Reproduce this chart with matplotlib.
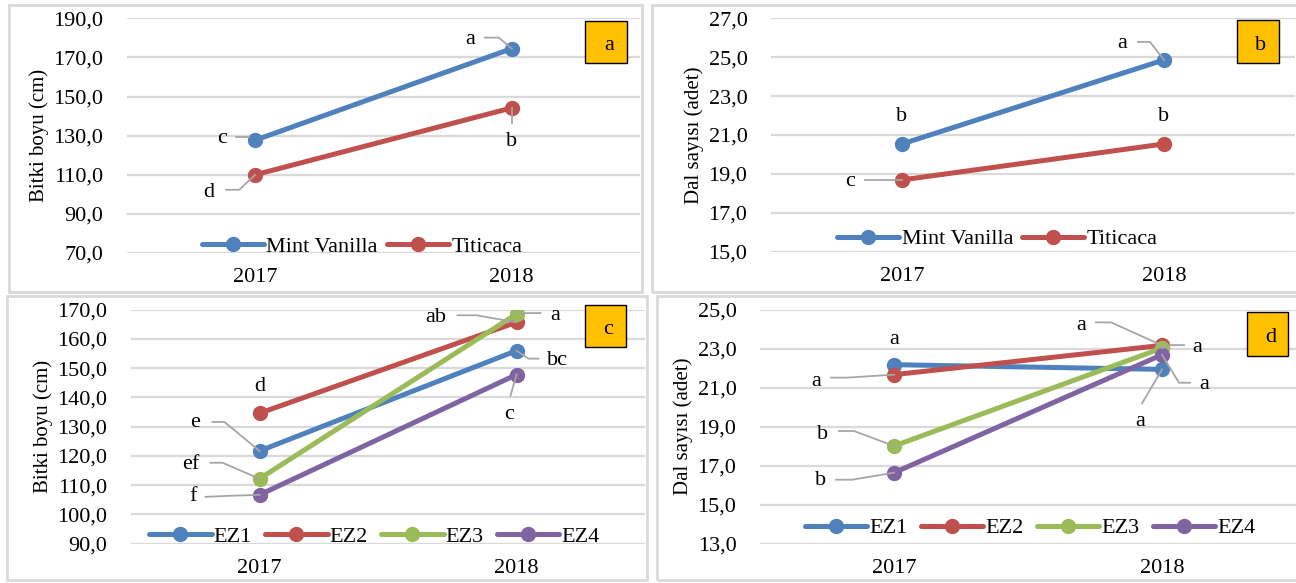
import matplotlib
matplotlib.use("Agg")
import numpy as np
import matplotlib.pyplot as plt
from matplotlib.patches import Rectangle
from matplotlib.lines import Line2D
from matplotlib.ticker import FuncFormatter, FixedLocator

plt.rcParams['font.family'] = ['Liberation Serif', 'DejaVu Serif']

# ---------------- data ----------------
years = ["2017", "2018"]

cultivars = ["Mint Vanilla", "Titicaca"]
height_cv = {"Mint Vanilla": [127.7, 174.5], "Titicaca": [110.0, 144.2]}
branch_cv = {"Mint Vanilla": [20.54, 24.86], "Titicaca": [18.69, 20.54]}

zones = ["EZ1", "EZ2", "EZ3", "EZ4"]
height_ez = {"EZ1": [121.7, 156.0], "EZ2": [134.6, 165.7],
             "EZ3": [112.2, 168.5], "EZ4": [106.7, 147.8]}
branch_ez = {"EZ1": [22.18, 21.94], "EZ2": [21.67, 23.17],
             "EZ3": [18.01, 23.03], "EZ4": [16.64, 22.69]}

# significance letters: (series, year index, text)
letters_a = [("Mint Vanilla", 0, "c"), ("Mint Vanilla", 1, "a"),
             ("Titicaca", 0, "d"), ("Titicaca", 1, "b")]
letters_b = [("Mint Vanilla", 0, "b"), ("Mint Vanilla", 1, "a"),
             ("Titicaca", 0, "c"), ("Titicaca", 1, "b")]
letters_c = [("EZ2", 0, "d"), ("EZ1", 0, "e"), ("EZ3", 0, "ef"), ("EZ4", 0, "f"),
             ("EZ2", 1, "ab"), ("EZ3", 1, "a"), ("EZ1", 1, "bc"), ("EZ4", 1, "c")]
letters_d = [("EZ1", 0, "a"), ("EZ2", 0, "a"), ("EZ3", 0, "b"), ("EZ4", 0, "b"),
             ("EZ2", 1, "a"), ("EZ3", 1, "a"), ("EZ4", 1, "a"), ("EZ1", 1, "a")]

# ---------------- style ----------------
W, H = 1296, 583
colors = {"Mint Vanilla": "#4F81BD", "Titicaca": "#C0504D",
          "EZ1": "#4F81BD", "EZ2": "#C0504D", "EZ3": "#9BBB59", "EZ4": "#8064A2"}
GRID = "#D9D9D9"
LEAD = "#A6A6A6"
FS = 16

# label placement (image pixel offsets: dx right, dy down) and leader vertices
place_a = [((-33, -2), [(-19, -3), (-6, -3)]),
           ((-42, -9), [(-27, -11), (-13, -11), (0, 0)]),
           ((-46, 18), [(-29, 15), (-16, 15), (0, 0)]),
           ((0, 34), [(0, 15), (0, 0)])]
place_b = [((0, -27), None),
           ((-42, -16), [(-26, -18), (-14, -18), (0, 0)]),
           ((-52, 2), [(-37, 0), (0, 0)]),
           ((0, -27), None)]
place_c = [((0, -27), None),
           ((-64, -28), [(-47, -29), (-35, -29), (0, 0)]),
           ((-69, -14), [(-49, -16), (-37, -16), (0, 0)]),
           ((-66, 2), [(-54, 2), (-31, 1), (0, 0)]),
           ((-81, -5), [(-59, -7), (-40, -7), (0, 0)]),
           ((39, 1), [(24, -1), (10, -1), (0, 0)]),
           ((41, 10), [(22, 8), (12, 8), (0, 0)]),
           ((-7, 40), [(-6, 21), (0, 0)])]
place_d = [((0, -25), None),
           ((-78, 7), [(-63, 3), (-47, 3), (0, 0)]),
           ((-71, -12), [(-55, -15), (-40, -15), (0, 0)]),
           ((-73, 8), [(-58, 7), (-42, 7), (0, 0)]),
           ((-81, -20), [(-66, -23), (-51, -23), (0, 0)]),
           ((35, -1), [(22, -3), (9, -3), (0, 0)]),
           ((42, 30), [(28, 28), (17, 28), (0, 0)]),
           ((-22, 52), [(-20, 34), (0, 0)])]

fig = plt.figure(figsize=(W / 100, H / 100), dpi=100)


def rect(x0, x1, y0, y1):
    return [x0 / W, 1 - y1 / H, (x1 - x0) / W, (y1 - y0) / H]


# panel frames
for (x0, x1, y0, y1) in [(9, 642, 5, 292), (652, 1300, 5, 292),
                         (7, 647, 296, 580), (657, 1300, 296, 580)]:
    fig.patches.append(Rectangle((x0 / W, 1 - y1 / H), (x1 - x0) / W, (y1 - y0) / H,
                                 transform=fig.transFigure, fill=False,
                                 edgecolor=GRID, linewidth=2, zorder=0))


def panel(box, data, names, ylim, step, ylabel, letter_box, letter,
          leg_anchor, leg_ncol, letters, places, handlelen, colsp):
    ax = fig.add_axes(rect(*box))
    x = list(range(len(years)))
    for n in names:
        ax.plot(x, data[n], color=colors[n], lw=3.6, marker="o", ms=10,
                solid_capstyle="round", label=n, zorder=3)
    ax.set_xlim(-0.5, 1.5)
    ax.set_ylim(*ylim)
    ax.yaxis.set_major_locator(FixedLocator(np.arange(ylim[0], ylim[1] + step / 2, step)))
    ax.yaxis.set_major_formatter(FuncFormatter(lambda v, p: f"{v:.1f}".replace(".", ",")))
    ax.set_xticks(x)
    ax.set_xticklabels(years)
    ax.tick_params(axis="both", length=0, labelsize=FS)
    ax.tick_params(axis="y", pad=17)
    ax.tick_params(axis="x", pad=11)
    for s in ax.spines.values():
        s.set_visible(False)
    ax.grid(axis="y", color=GRID, lw=1.6, zorder=0)
    ax.set_axisbelow(True)
    ax.set_ylabel(ylabel, fontsize=FS - 1, labelpad=3)
    ax.set_facecolor("none")
    leg = ax.legend(loc="center", bbox_to_anchor=leg_anchor, ncol=leg_ncol,
                    frameon=False, fontsize=FS, handlelength=handlelen,
                    handletextpad=0.1, columnspacing=colsp, borderpad=0,
                    borderaxespad=0)
    for h in leg.legend_handles:
        h.set_markersize(10)

    # letter box
    bx0, bx1, by0, by1 = letter_box
    fig.patches.append(Rectangle((bx0 / W, 1 - by1 / H), (bx1 - bx0) / W, (by1 - by0) / H,
                                 transform=fig.transFigure, facecolor="#FFC000",
                                 edgecolor="black", linewidth=1, zorder=5))
    fig.text((bx0 + bx1) / 2 / W + 3 / W, 1 - ((by0 + by1) / 2 + 4) / H, letter,
             fontsize=FS, ha="center", va="center", zorder=6)

    # significance labels
    fig.canvas.draw()
    for (n, i, t), (off, lead) in zip(letters, places):
        px, py = ax.transData.transform((x[i], data[n][i]))
        fig.text((px + off[0]) / W, (py - off[1]) / H, t, fontsize=FS,
                 ha="center", va="center")
        if lead:
            xs = [(px + dx) / W for dx, dy in lead]
            ys = [(py - dy) / H for dx, dy in lead]
            fig.lines.append(Line2D(xs, ys, transform=fig.transFigure,
                                    color=LEAD, lw=1.3, zorder=2))
    return ax


panel((127, 640, 18.3, 253), height_cv, cultivars, (70, 190), 20,
      "Bitki boyu (cm)", (585, 627, 21, 63), "a", (0.458, 0.026), 2,
      letters_a, place_a, 2.8, 0.4)
panel((771, 1295, 18.3, 251.7), branch_cv, cultivars, (15, 27), 2,
      "Dal sayısı (adet)", (1237, 1279, 20, 63), "b", (0.432, 0.054), 2,
      letters_b, place_b, 2.8, 0.4)
panel((131, 645, 309.7, 543.7), height_ez, zones, (90, 170), 10,
      "Bitki boyu (cm)", (585, 626, 305, 347), "c", (0.474, 0.029), 4,
      letters_c, place_c, 2.8, 0.6)
panel((760, 1296, 309.7, 543.7), branch_ez, zones, (13, 25), 2,
      "Dal sayısı (adet)", (1247, 1288, 312, 356), "d", (0.504, 0.067), 4,
      letters_d, place_d, 2.8, 0.6)

fig.savefig("out.png", dpi=100)
